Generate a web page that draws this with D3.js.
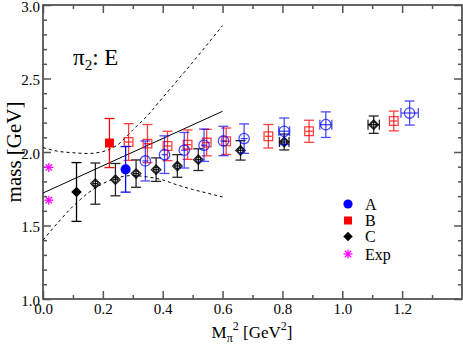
<!DOCTYPE html>
<html>
<head>
<meta charset="utf-8">
<script src="https://cdn.jsdelivr.net/npm/d3@7"></script>
<style>
  body { margin: 0; background: #fff; }
  svg text { font-family: "Liberation Serif", "Times New Roman", Times, "DejaVu Serif", serif !important; }
</style>
</head>
<body>
<div id="chart"></div>
<script>
// pi2 E mass vs pion mass squared

// filled points (one per set)
var aFillX = [0.276], aFillY = [1.882], aFillErr = [0.155];
var bFillX = [0.222], bFillY = [2.061], bFillErr = [0.167];
var cFillX = [0.112], cFillY = [1.728], cFillErr = [0.20];

// experiment
var expX = [0.0196, 0.0196];
var expY = [1.895, 1.672];

// open points, set A (blue circles)
var aX    = [0.342, 0.406, 0.472, 0.538, 0.603, 0.672, 0.806, 0.945, 1.225];
var aY    = [1.939, 1.982, 2.012, 2.046, 2.075, 2.091, 2.141, 2.186, 2.265];
var aYErr = [0.136, 0.128, 0.121, 0.110, 0.100, 0.100, 0.090, 0.087, 0.082];
var aXErr = [0.010, 0.010, 0.010, 0.010, 0.010, 0.012, 0.018, 0.020, 0.029];

// open points, set B (red squares)
var bX    = [0.286, 0.349, 0.416, 0.483, 0.547, 0.612, 0.753, 0.889, 1.172];
var bY    = [2.068, 2.057, 2.041, 2.050, 2.064, 2.073, 2.107, 2.141, 2.211];
var bYErr = [0.125, 0.130, 0.100, 0.100, 0.090, 0.090, 0.080, 0.075, 0.067];

// open points, set C (black diamonds)
var cX    = [0.175, 0.242, 0.311, 0.378, 0.449, 0.519, 0.660, 0.806, 1.105];
var cY    = [1.785, 1.812, 1.853, 1.880, 1.905, 1.948, 2.011, 2.068, 2.186];
var cYErr = [0.140, 0.110, 0.093, 0.080, 0.077, 0.074, 0.066, 0.054, 0.059];
var cXErr = [0.008, 0.008, 0.008, 0.010, 0.010, 0.010, 0.012, 0.016, 0.019];

// linear fit and its error band
var fitX = [0.0, 0.6];
var fitY = [1.721, 2.277];
var bandX  = [0.0, 0.05, 0.1, 0.15, 0.2, 0.25, 0.3, 0.35, 0.4, 0.45, 0.5, 0.55, 0.6];
var bandHi = [2.030, 2.005, 1.995, 1.990, 2.003, 2.050, 2.150, 2.250, 2.370, 2.490, 2.610, 2.735, 2.860];
var bandLo = [1.400, 1.520, 1.630, 1.720, 1.785, 1.825, 1.840, 1.830, 1.810, 1.775, 1.745, 1.720, 1.694];

// legend
var legendNames = ["A", "B", "C", "Exp"];

var xMajor = [0.0, 0.2, 0.4, 0.6, 0.8, 1.0, 1.2];
var xMinor = [0.1, 0.3, 0.5, 0.7, 0.9, 1.1, 1.3];
var yMajor = [1.0, 1.5, 2.0, 2.5, 3.0];
var yMinor = [1.1, 1.2, 1.3, 1.4, 1.6, 1.7, 1.8, 1.9, 2.1, 2.2, 2.3, 2.4, 2.6, 2.7, 2.8, 2.9];

var serif = "'Liberation Serif', 'Times New Roman', Times, serif";

var svgWidth = 463;
var svgHeight = 345;
var margin = { top: 5, right: 1, bottom: 46, left: 43 };
var chartWidth = svgWidth - margin.left - margin.right;
var chartHeight = svgHeight - margin.top - margin.bottom;

var svg = d3.select("#chart")
  .append("svg")
  .attr("width", svgWidth)
  .attr("height", svgHeight)
  .attr("font-family", serif);

var chartGroup = svg.append("g")
  .attr("transform", `translate(${margin.left}, ${margin.top})`);

var xScale = d3.scaleLinear().domain([0, 1.4]).range([0, chartWidth]);
var yScale = d3.scaleLinear().domain([1, 3]).range([chartHeight, 0]);

var axisColor = "#555";
var fmt = d3.format(".1f");

// axes, ticks pointing inwards
function styleAxis(g) {
  g.attr("font-family", serif);
  g.select(".domain").remove();
  g.selectAll("line").attr("stroke", axisColor).attr("stroke-width", 1.5);
  g.selectAll("text").attr("font-size", "15px").attr("fill", "#000");
}

chartGroup.append("g")
  .attr("transform", `translate(0, ${chartHeight})`)
  .call(d3.axisBottom(xScale).tickValues(xMajor).tickSize(-8).tickPadding(4).tickFormat(fmt))
  .call(styleAxis);
chartGroup.append("g")
  .attr("transform", `translate(0, ${chartHeight})`)
  .call(d3.axisBottom(xScale).tickValues(xMinor).tickSize(-4).tickFormat(""))
  .call(styleAxis);
chartGroup.append("g")
  .call(d3.axisTop(xScale).tickValues(xMajor).tickSize(-8).tickFormat(""))
  .call(styleAxis);
chartGroup.append("g")
  .call(d3.axisTop(xScale).tickValues(xMinor).tickSize(-4).tickFormat(""))
  .call(styleAxis);

chartGroup.append("g")
  .call(d3.axisLeft(yScale).tickValues(yMajor).tickSize(-8).tickPadding(3).tickFormat(fmt))
  .call(styleAxis)
  .selectAll("text").attr("dy", "0.4em");
chartGroup.append("g")
  .call(d3.axisLeft(yScale).tickValues(yMinor).tickSize(-4).tickFormat(""))
  .call(styleAxis);
chartGroup.append("g")
  .attr("transform", `translate(${chartWidth}, 0)`)
  .call(d3.axisRight(yScale).tickValues(yMajor).tickSize(-8).tickFormat(""))
  .call(styleAxis);
chartGroup.append("g")
  .attr("transform", `translate(${chartWidth}, 0)`)
  .call(d3.axisRight(yScale).tickValues(yMinor).tickSize(-4).tickFormat(""))
  .call(styleAxis);

chartGroup.append("rect")
  .attr("width", chartWidth)
  .attr("height", chartHeight)
  .attr("fill", "none")
  .attr("stroke", axisColor)
  .attr("stroke-width", 1.8);

// fit line and band
var line = d3.line().x(d => xScale(d[0])).y(d => yScale(d[1]));
var curve = d3.line().x(d => xScale(d[0])).y(d => yScale(d[1])).curve(d3.curveMonotoneX);

chartGroup.append("path")
  .attr("d", line(d3.zip(fitX, fitY)))
  .attr("fill", "none").attr("stroke", "#000").attr("stroke-width", 1);

[bandHi, bandLo].forEach(function(b) {
  chartGroup.append("path")
    .attr("d", curve(d3.zip(bandX, b)))
    .attr("fill", "none").attr("stroke", "#000").attr("stroke-width", 1)
    .attr("stroke-dasharray", "3,3");
});

// error bars
function yErrBars(xs, ys, errs, color, op) {
  var g = chartGroup.append("g").attr("stroke", color).attr("stroke-width", 1.3).attr("opacity", op);
  xs.forEach(function(x, i) {
    var px = xScale(x), top = yScale(ys[i] + errs[i]), bot = yScale(ys[i] - errs[i]);
    g.append("line").attr("x1", px).attr("x2", px).attr("y1", top).attr("y2", bot);
    g.append("line").attr("x1", px - 5).attr("x2", px + 5).attr("y1", top).attr("y2", top);
    g.append("line").attr("x1", px - 5).attr("x2", px + 5).attr("y1", bot).attr("y2", bot);
  });
}

function xErrBars(xs, ys, errs, color, op) {
  var g = chartGroup.append("g").attr("stroke", color).attr("stroke-width", 1.3).attr("opacity", op);
  xs.forEach(function(x, i) {
    var py = yScale(ys[i]), l = xScale(x - errs[i]), r = xScale(x + errs[i]);
    g.append("line").attr("x1", l).attr("x2", r).attr("y1", py).attr("y2", py);
    if (errs[i] > 0.015) {
      g.append("line").attr("x1", l).attr("x2", l).attr("y1", py - 5).attr("y2", py + 5);
      g.append("line").attr("x1", r).attr("x2", r).attr("y1", py - 5).attr("y2", py + 5);
    }
  });
}

// rot = 45 turns a square into a diamond
function markers(xs, ys, type, size, color, filled, op, rot) {
  chartGroup.append("g").selectAll("path")
    .data(d3.zip(xs, ys))
    .enter()
    .append("path")
    .attr("transform", d => `translate(${xScale(d[0])}, ${yScale(d[1])}) rotate(${rot || 0})`)
    .attr("d", d3.symbol().type(type).size(size))
    .attr("fill", filled ? color : "none")
    .attr("stroke", color)
    .attr("stroke-width", filled ? 0 : 1.3)
    .attr("opacity", op);
}

// open sets
yErrBars(cX, cY, cYErr, "#000", 0.85);
xErrBars(cX, cY, cXErr, "#000", 0.85);
markers(cX, cY, d3.symbolSquare, 45, "#000", false, 0.85, 45);
markers(cX, cY, d3.symbolCircle, 22, "#000", false, 0.85);

yErrBars(bX, bY, bYErr, "#ff0000", 0.75);
xErrBars(bX, bY, bYErr.map(() => 0.012), "#ff0000", 0.75);
markers(bX, bY, d3.symbolSquare, 75, "#ff0000", false, 0.75);

yErrBars(aX, aY, aYErr, "#0000ff", 0.7);
xErrBars(aX, aY, aXErr, "#0000ff", 0.7);
markers(aX, aY, d3.symbolCircle, 85, "#0000ff", false, 0.7);

// filled sets
yErrBars(bFillX, bFillY, bFillErr, "#ff0000", 1);
markers(bFillX, bFillY, d3.symbolSquare, 80, "#ff0000", true, 1);
yErrBars(aFillX, aFillY, aFillErr, "#0000ff", 1);
markers(aFillX, aFillY, d3.symbolCircle, 80, "#0000ff", true, 1);
yErrBars(cFillX, cFillY, cFillErr, "#000", 1);
markers(cFillX, cFillY, d3.symbolSquare, 55, "#000", true, 1, 45);

// experiment stars
function star(g, px, py, r) {
  [0, 45, 90, 135].forEach(function(a) {
    var t = a * Math.PI / 180;
    g.append("line")
      .attr("x1", px - r * Math.cos(t)).attr("y1", py - r * Math.sin(t))
      .attr("x2", px + r * Math.cos(t)).attr("y2", py + r * Math.sin(t));
  });
}
var expG = chartGroup.append("g").attr("stroke", "#ff00ff").attr("stroke-width", 1.3);
expX.forEach(function(x, i) { star(expG, xScale(x), yScale(expY[i]), 4.5); });

// legend
var legendG = svg.append("g");
var legendY = [204, 220.5, 236.5, 254];
legendNames.forEach(function(name, i) {
  var ly = legendY[i];
  if (i === 0) legendG.append("circle").attr("cx", 348).attr("cy", ly).attr("r", 4.6).attr("fill", "#0000ff");
  if (i === 1) legendG.append("rect").attr("x", 344).attr("y", ly - 4).attr("width", 8).attr("height", 8).attr("fill", "#ff0000");
  if (i === 2) legendG.append("path").attr("transform", `translate(348, ${ly}) rotate(45)`).attr("d", d3.symbol().type(d3.symbolSquare).size(45)).attr("fill", "#000");
  if (i === 3) {
    var sg = legendG.append("g").attr("stroke", "#ff00ff").attr("stroke-width", 1.3);
    star(sg, 348, ly, 4.5);
  }
  legendG.append("text")
    .attr("x", 365).attr("y", ly + 5.5)
    .attr("font-size", "16px")
    .text(name);
});

// title
var title = svg.append("text").attr("x", 73).attr("y", 65).attr("font-size", "23px");
title.append("tspan").text("\u03c0");
title.append("tspan").attr("font-size", "15px").attr("dy", 5).text("2");
title.append("tspan").attr("dy", -5).text(": E");

// axis labels
var xLabel = svg.append("text")
  .attr("x", 252).attr("y", 338)
  .attr("text-anchor", "middle")
  .attr("font-size", "17px");
xLabel.append("tspan").text("M");
xLabel.append("tspan").attr("font-size", "12px").attr("dy", 4).text("\u03c0");
xLabel.append("tspan").attr("font-size", "12px").attr("dy", -12).attr("dx", 0).text("2");
xLabel.append("tspan").attr("dy", 8).text(" [GeV");
xLabel.append("tspan").attr("font-size", "12px").attr("dy", -8).text("2");
xLabel.append("tspan").attr("dy", 8).text("]");

svg.append("text")
  .attr("transform", "translate(21, 152) rotate(-90)")
  .attr("text-anchor", "middle")
  .attr("font-size", "21px")
  .text("mass [GeV]");
</script>
</body>
</html>
